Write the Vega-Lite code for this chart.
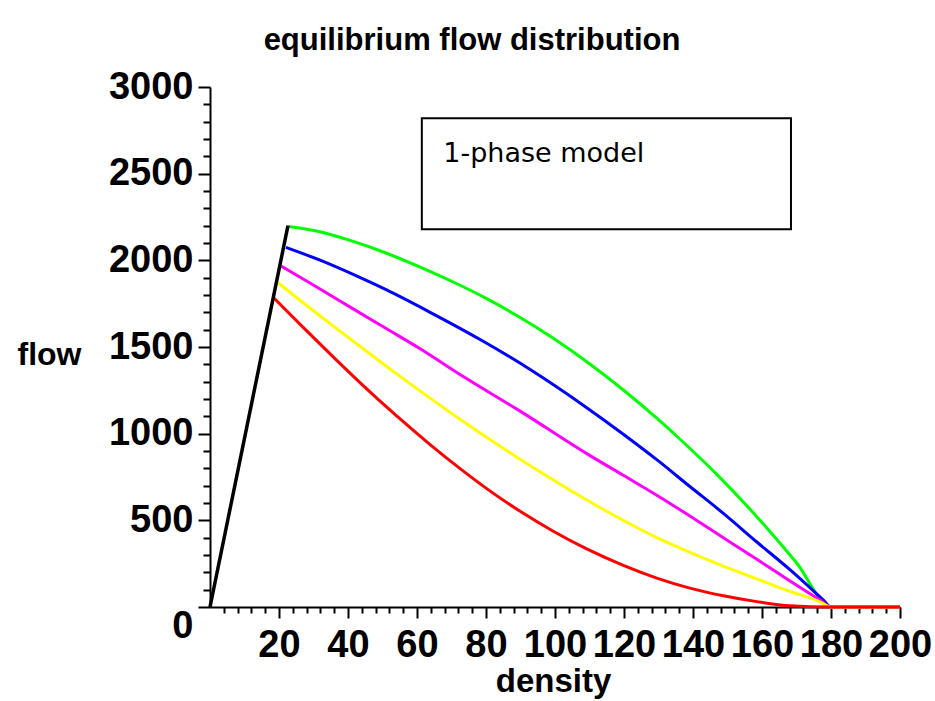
{
  "$schema": "https://vega.github.io/schema/vega-lite/v6.json",
  "width": 690,
  "height": 520,
  "autosize": {"type": "none"},
  "padding": {"left": 210, "top": 87, "right": 35, "bottom": 94},
  "background": "white",
  "config": {"view": {"stroke": null}},
  "title": {
    "text": "equilibrium flow distribution",
    "font": "Liberation Sans",
    "fontWeight": "bold",
    "fontSize": 31,
    "color": "black",
    "anchor": "middle",
    "frame": "group",
    "dx": -83,
    "dy": 29,
    "baseline": "alphabetic",
    "offset": 16
  },
  "datasets": {
    "curves": [
      {"series": "green", "density": 22.6, "flow": 2195},
      {"series": "green", "density": 31.9, "flow": 2165},
      {"series": "green", "density": 41.5, "flow": 2109},
      {"series": "green", "density": 51.2, "flow": 2041},
      {"series": "green", "density": 60.9, "flow": 1961},
      {"series": "green", "density": 70.5, "flow": 1875},
      {"series": "green", "density": 80.2, "flow": 1779},
      {"series": "green", "density": 89.9, "flow": 1670},
      {"series": "green", "density": 99.5, "flow": 1550},
      {"series": "green", "density": 110.1, "flow": 1402},
      {"series": "green", "density": 120, "flow": 1249},
      {"series": "green", "density": 129.5, "flow": 1089},
      {"series": "green", "density": 135.3, "flow": 985},
      {"series": "green", "density": 146.9, "flow": 765},
      {"series": "green", "density": 158.5, "flow": 521},
      {"series": "green", "density": 170, "flow": 255},
      {"series": "green", "density": 180, "flow": 0},
      {"series": "green", "density": 200, "flow": 0},
      {"series": "blue", "density": 22, "flow": 2075},
      {"series": "blue", "density": 31.9, "flow": 2001},
      {"series": "blue", "density": 41.5, "flow": 1919},
      {"series": "blue", "density": 51.2, "flow": 1829},
      {"series": "blue", "density": 63.8, "flow": 1700},
      {"series": "blue", "density": 78.3, "flow": 1543},
      {"series": "blue", "density": 92.8, "flow": 1370},
      {"series": "blue", "density": 109.2, "flow": 1150},
      {"series": "blue", "density": 119.8, "flow": 997},
      {"series": "blue", "density": 129.5, "flow": 850},
      {"series": "blue", "density": 139.1, "flow": 695},
      {"series": "blue", "density": 148.8, "flow": 540},
      {"series": "blue", "density": 158.5, "flow": 375},
      {"series": "blue", "density": 168.1, "flow": 215},
      {"series": "blue", "density": 177.8, "flow": 40},
      {"series": "blue", "density": 180, "flow": 0},
      {"series": "blue", "density": 200, "flow": 0},
      {"series": "magenta", "density": 20.6, "flow": 1967},
      {"series": "magenta", "density": 31.9, "flow": 1835},
      {"series": "magenta", "density": 41.5, "flow": 1720},
      {"series": "magenta", "density": 51.2, "flow": 1605},
      {"series": "magenta", "density": 60.9, "flow": 1490},
      {"series": "magenta", "density": 73.4, "flow": 1330},
      {"series": "magenta", "density": 89.9, "flow": 1130},
      {"series": "magenta", "density": 109.2, "flow": 885},
      {"series": "magenta", "density": 119.8, "flow": 760},
      {"series": "magenta", "density": 129.5, "flow": 645},
      {"series": "magenta", "density": 139.1, "flow": 525},
      {"series": "magenta", "density": 148.8, "flow": 400},
      {"series": "magenta", "density": 158.5, "flow": 275},
      {"series": "magenta", "density": 168.1, "flow": 150},
      {"series": "magenta", "density": 176.8, "flow": 40},
      {"series": "magenta", "density": 180, "flow": 0},
      {"series": "magenta", "density": 200, "flow": 0},
      {"series": "yellow", "density": 19.5, "flow": 1875},
      {"series": "yellow", "density": 27, "flow": 1755},
      {"series": "yellow", "density": 34.8, "flow": 1635},
      {"series": "yellow", "density": 44.4, "flow": 1490},
      {"series": "yellow", "density": 54.1, "flow": 1345},
      {"series": "yellow", "density": 63.8, "flow": 1205},
      {"series": "yellow", "density": 73.4, "flow": 1070},
      {"series": "yellow", "density": 83.1, "flow": 940},
      {"series": "yellow", "density": 91.8, "flow": 828},
      {"series": "yellow", "density": 104.3, "flow": 675},
      {"series": "yellow", "density": 110.1, "flow": 607},
      {"series": "yellow", "density": 119.8, "flow": 500},
      {"series": "yellow", "density": 129.5, "flow": 400},
      {"series": "yellow", "density": 139.1, "flow": 315},
      {"series": "yellow", "density": 148.8, "flow": 236},
      {"series": "yellow", "density": 158.5, "flow": 162},
      {"series": "yellow", "density": 168.1, "flow": 90},
      {"series": "yellow", "density": 176.8, "flow": 30},
      {"series": "yellow", "density": 180, "flow": 0},
      {"series": "yellow", "density": 200, "flow": 0},
      {"series": "red", "density": 18.3, "flow": 1787},
      {"series": "red", "density": 27, "flow": 1613},
      {"series": "red", "density": 36, "flow": 1437},
      {"series": "red", "density": 44.4, "flow": 1277},
      {"series": "red", "density": 54.1, "flow": 1102},
      {"series": "red", "density": 63.8, "flow": 937},
      {"series": "red", "density": 72.5, "flow": 798},
      {"series": "red", "density": 80.2, "flow": 683},
      {"series": "red", "density": 89.9, "flow": 552},
      {"series": "red", "density": 99.5, "flow": 437},
      {"series": "red", "density": 109.2, "flow": 335},
      {"series": "red", "density": 119.8, "flow": 240},
      {"series": "red", "density": 129.5, "flow": 167},
      {"series": "red", "density": 139.1, "flow": 109},
      {"series": "red", "density": 148.8, "flow": 65},
      {"series": "red", "density": 158.5, "flow": 31},
      {"series": "red", "density": 168.1, "flow": 7},
      {"series": "red", "density": 180, "flow": 0},
      {"series": "red", "density": 200, "flow": 0}
    ],
    "freeflow": [
      {"series": "black", "density": 0, "flow": 0},
      {"series": "black", "density": 22.6, "flow": 2200}
    ],
    "box": [
      {"density": 61.4, "density2": 168.4, "flow": 2819, "flow2": 2179}
    ],
    "note": [
      {"density": 67.6, "flow": 2569, "text": "1-phase model"}
    ]
  },
  "layer": [
    {
      "data": {"name": "curves"},
      "mark": {"type": "line", "strokeWidth": 3, "interpolate": "monotone"},
      "encoding": {
        "x": {
          "field": "density",
          "type": "quantitative",
          "scale": {"domain": [0, 200], "nice": false, "zero": false},
          "axis": {
            "values": [4, 8, 12, 16, 20, 24, 28, 32, 36, 40, 44, 48, 52, 56, 60, 64, 68, 72, 76, 80, 84, 88, 92, 96, 100, 104, 108, 112, 116, 120, 124, 128, 132, 136, 140, 144, 148, 152, 156, 160, 164, 168, 172, 176, 180, 184, 188, 192, 196, 200],
            "tickCount": 60,
            "format": "d",
            "labelExpr": "datum.value % 20 == 0 ? datum.label : ''",
            "labelOverlap": false,
            "labelFlush": false,
            "labelBound": false,
            "grid": false,
            "tickSize": {"condition": {"test": "datum.value % 20 == 0", "value": 11}, "value": 6},
            "tickWidth": 2,
            "tickColor": "black",
            "domainColor": "black",
            "domainWidth": 2,
            "labelFont": "Liberation Sans",
            "labelFontWeight": "bold",
            "labelFontSize": 38,
            "labelColor": "black",
            "labelBaseline": "top",
            "labelPadding": 8,
            "title": "density",
            "titleFont": "Liberation Sans",
            "titleFontWeight": "bold",
            "titleFontSize": 33,
            "titleColor": "black",
            "titleAlign": "center",
            "titleBaseline": "alphabetic",
            "titleX": 343,
            "titleY": 84
          }
        },
        "y": {
          "field": "flow",
          "type": "quantitative",
          "scale": {"domain": [0, 3000], "nice": false},
          "axis": {
            "values": [0, 100, 200, 300, 400, 500, 600, 700, 800, 900, 1000, 1100, 1200, 1300, 1400, 1500, 1600, 1700, 1800, 1900, 2000, 2100, 2200, 2300, 2400, 2500, 2600, 2700, 2800, 2900, 3000],
            "tickCount": 40,
            "format": "d",
            "labelExpr": "datum.value % 500 == 0 ? datum.label : ''",
            "labelOverlap": false,
            "labelFlush": false,
            "labelBound": false,
            "grid": false,
            "tickSize": {"condition": {"test": "datum.value % 500 == 0", "value": 12}, "value": 7},
            "tickWidth": 2,
            "tickColor": "black",
            "domainColor": "black",
            "domainWidth": 2,
            "labelFont": "Liberation Sans",
            "labelFontWeight": "bold",
            "labelFontSize": 38,
            "labelColor": "black",
            "labelBaseline": {"condition": {"test": "datum.value == 0", "value": "top"}, "value": "middle"},
            "labelPadding": 5,
            "title": "flow",
            "titleFont": "Liberation Sans",
            "titleFontWeight": "bold",
            "titleFontSize": 32,
            "titleColor": "black",
            "titleAngle": 0,
            "titleAlign": "left",
            "titleBaseline": "alphabetic",
            "titleX": -193,
            "titleY": 277
          }
        },
        "color": {
          "field": "series",
          "type": "nominal",
          "scale": {
            "domain": ["green", "blue", "magenta", "yellow", "red", "black"],
            "range": ["#00ff00", "#0000ff", "#ff00ff", "#ffff00", "#ff0000", "#000000"]
          },
          "legend": null
        }
      }
    },
    {
      "data": {"name": "freeflow"},
      "mark": {"type": "line", "strokeWidth": 3.5, "color": "black"},
      "encoding": {
        "x": {"field": "density", "type": "quantitative"},
        "y": {"field": "flow", "type": "quantitative"}
      }
    },
    {
      "data": {"name": "box"},
      "mark": {"type": "rect", "fill": null, "fillOpacity": 0, "stroke": "black", "strokeWidth": 2},
      "encoding": {
        "x": {"field": "density", "type": "quantitative"},
        "x2": {"field": "density2"},
        "y": {"field": "flow", "type": "quantitative"},
        "y2": {"field": "flow2"}
      }
    },
    {
      "data": {"name": "note"},
      "mark": {"type": "text", "font": "DejaVu Sans", "fontSize": 27, "align": "left", "baseline": "alphabetic", "color": "black"},
      "encoding": {
        "x": {"field": "density", "type": "quantitative"},
        "y": {"field": "flow", "type": "quantitative"},
        "text": {"field": "text"}
      }
    }
  ]
}
